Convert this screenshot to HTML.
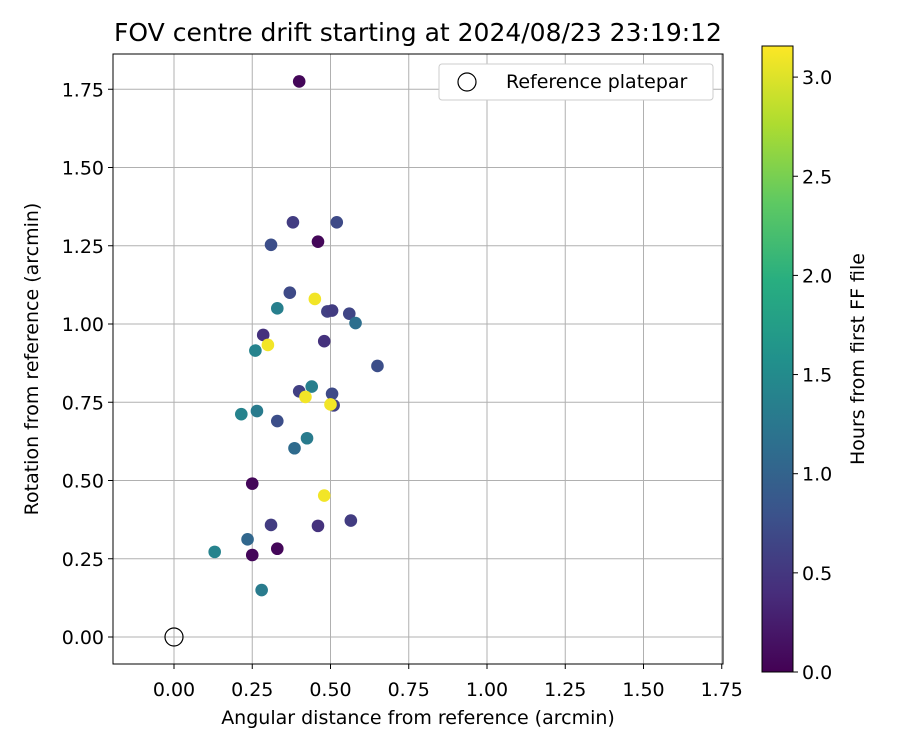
<!DOCTYPE html>
<html><head><meta charset="utf-8"><style>
body{margin:0;background:#fff;font-family:"Liberation Sans","DejaVu Sans",sans-serif}
svg text{font-family:"DejaVu Sans","Liberation Sans",sans-serif;fill:#000}
</style></head><body>
<svg id="c" width="900" height="750" viewBox="0 0 900 750">
<defs><linearGradient id="vir" x1="0" y1="1" x2="0" y2="0">
<stop offset="0" stop-color="#440154"/><stop offset="0.125" stop-color="#472d7b"/><stop offset="0.25" stop-color="#3b528b"/><stop offset="0.375" stop-color="#2c728e"/><stop offset="0.5" stop-color="#21918c"/><stop offset="0.625" stop-color="#28ae80"/><stop offset="0.75" stop-color="#5ec962"/><stop offset="0.875" stop-color="#addc30"/><stop offset="1" stop-color="#fde725"/></linearGradient></defs>
<text x="418" y="41" font-size="25" text-anchor="middle">FOV centre drift starting at 2024/08/23 23:19:12</text>
<g id="grid"></g><g id="pts"></g>
<rect x="113" y="54" width="610" height="610" fill="none" stroke="#000" stroke-width="1"/>
<g id="axes"></g>
<text x="418" y="724" font-size="19" text-anchor="middle">Angular distance from reference (arcmin)</text>
<text transform="translate(38,359) rotate(-90)" font-size="19" text-anchor="middle">Rotation from reference (arcmin)</text>
<g>
<rect x="439" y="64" width="274" height="36" rx="3" fill="#fff" stroke="#ccc"/>
<circle cx="467" cy="82" r="9" fill="none" stroke="#000" stroke-width="1.2"/>
<text x="506" y="88" font-size="19">Reference platepar</text></g>
<rect x="762" y="46" width="31" height="626" fill="url(#vir)" stroke="#000" stroke-width="1"/>
<g id="cb"></g>
<text transform="translate(864,359) rotate(-90)" font-size="19" text-anchor="middle">Hours from first FF file</text>
</svg>
<script>
const xs=[0.40,0.38,0.52,0.31,0.46,0.37,0.45,0.33,0.49,0.505,0.56,0.58,0.285,0.26,0.30,0.48,0.65,0.40,0.44,0.505,0.42,0.51,0.50,0.215,0.265,0.33,0.425,0.385,0.25,0.48,0.31,0.46,0.565,0.235,0.13,0.25,0.33,0.28];
const ys=[1.775,1.325,1.325,1.253,1.263,1.10,1.08,1.05,1.04,1.043,1.033,1.003,0.965,0.915,0.933,0.945,0.866,0.785,0.80,0.777,0.767,0.74,0.743,0.712,0.722,0.69,0.635,0.603,0.49,0.452,0.358,0.355,0.372,0.312,0.272,0.262,0.282,0.15];
const hours=[0.05,0.55,0.7,0.75,0.05,0.7,3.1,1.35,0.6,0.55,0.65,1.15,0.45,1.4,3.1,0.45,0.75,0.6,1.35,0.7,3.1,0.6,3.1,1.4,1.3,0.75,1.3,1.1,0.05,3.1,0.55,0.45,0.55,1.05,1.4,0.05,0.05,1.3];
const xticks=[0,0.25,0.5,0.75,1,1.25,1.5,1.75];
const yticks=[0,0.25,0.5,0.75,1,1.25,1.5,1.75];
const cticks=[0,0.5,1,1.5,2,2.5,3];
const X=v=>174+v*313, Y=v=>637-v*313, C=v=>672-v*198.3;
const NS='http://www.w3.org/2000/svg';
function mk(p,t,a){const e=document.createElementNS(NS,t);for(const k in a)e.setAttribute(k,a[k]);document.getElementById(p).appendChild(e);return e;}
const stops=[[68,1,84],[71,45,123],[59,82,139],[44,114,142],[33,145,140],[40,174,128],[94,201,98],[173,220,48],[253,231,37]];
function vir(h){let t=Math.max(0,Math.min(1,h/3.156))*8;let i=Math.min(7,Math.floor(t)),f=t-i;const a=stops[i],b=stops[i+1];return 'rgb('+a.map((v,k)=>Math.round(v+(b[k]-v)*f)).join(',')+')';}
xticks.forEach(v=>{
 let l=mk('grid','line',{x1:X(v),x2:X(v),y1:54,y2:664,stroke:'#b0b0b0','stroke-width':1});
 
 let t=mk('axes','line',{x1:X(v),x2:X(v),y1:664,y2:669,stroke:'#000'});
 
 let s=mk('axes','text',{x:X(v),y:696,'font-size':19,'text-anchor':'middle'});s.textContent=v.toFixed(2);
 
});
yticks.forEach(v=>{
 let l=mk('grid','line',{x1:113,x2:723,y1:Y(v),y2:Y(v),stroke:'#b0b0b0','stroke-width':1});
 
 let t=mk('axes','line',{x1:108,x2:113,y1:Y(v),y2:Y(v),stroke:'#000'});
 
 let s=mk('axes','text',{x:104,y:Y(v)+7,'font-size':19,'text-anchor':'end'});s.textContent=v.toFixed(2);
 
});
cticks.forEach(v=>{
 let t=mk('cb','line',{x1:793,x2:798,y1:C(v),y2:C(v),stroke:'#000'});
 
 let s=mk('cb','text',{x:802,y:C(v)+7,'font-size':19});s.textContent=v.toFixed(1);
 
});
xs.forEach((v,i)=>{
 let c=mk('pts','circle',{cx:X(v),cy:Y(ys[i]),r:6.3,fill:vir(hours[i])});
 
});
let r=mk('pts','circle',{cx:X(0),cy:Y(0),r:9,fill:'none',stroke:'#000','stroke-width':1.2});

</script></body></html>
